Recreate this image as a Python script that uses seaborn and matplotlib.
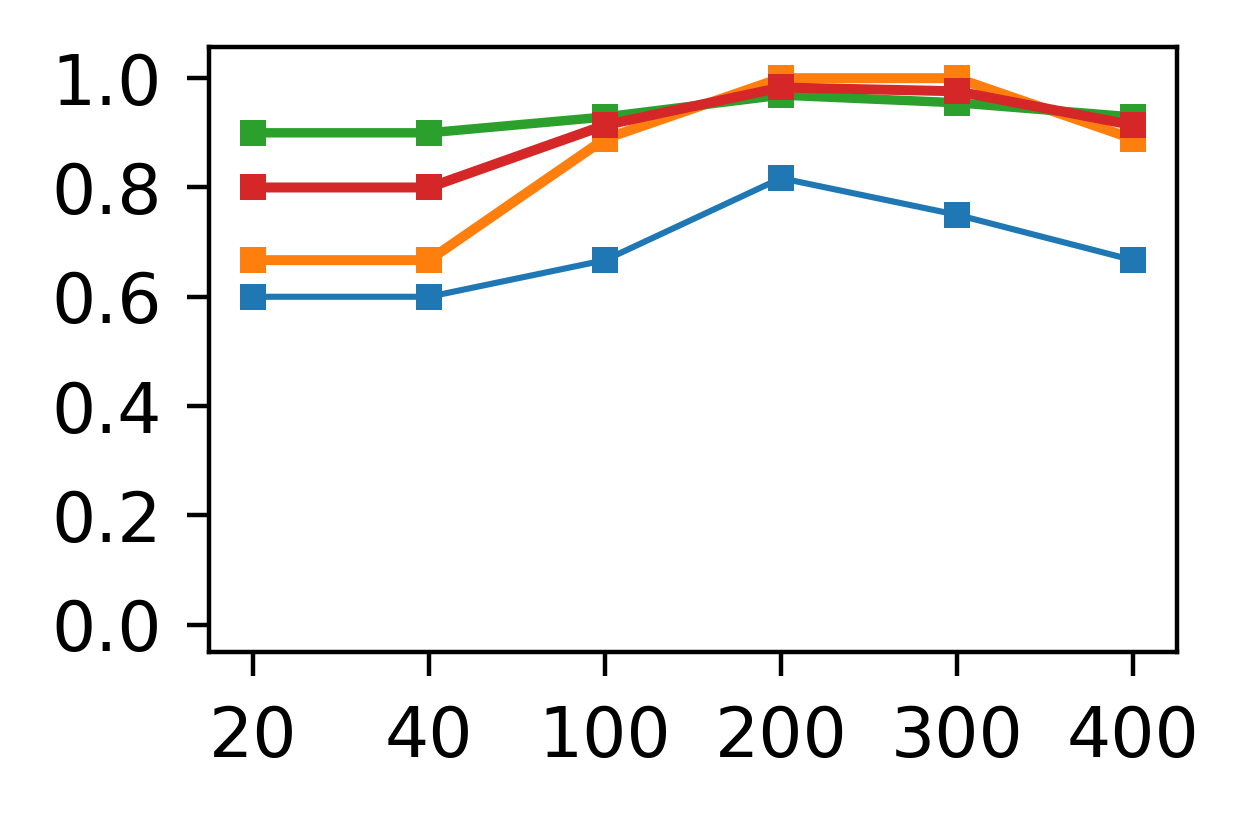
import matplotlib
matplotlib.use("Agg")
import pandas as pd
import seaborn as sns
import matplotlib.pyplot as plt

sizes = ["20", "40", "100", "200", "300", "400"]

blue_vals = [0.6, 0.6, 0.667, 0.817, 0.75, 0.667]
orange_vals = [0.667, 0.667, 0.889, 1.0, 1.0, 0.889]
green_vals = [0.9, 0.9, 0.929, 0.969, 0.955, 0.929]
red_vals = [0.8, 0.8, 0.914, 0.983, 0.976, 0.914]

series = [
    ("blue", blue_vals, "#1f77b4", 1.1),
    ("orange", orange_vals, "#ff7f0e", 1.8),
    ("green", green_vals, "#2ca02c", 1.7),
    ("red", red_vals, "#d62728", 1.8),
]

sns.set_style("ticks")
plt.rcParams["font.family"] = ["DejaVu Sans"]
plt.rcParams["font.size"] = 12.5
for key in ["text.color", "axes.labelcolor", "xtick.color", "ytick.color", "axes.edgecolor"]:
    plt.rcParams[key] = "black"
plt.rcParams["axes.linewidth"] = 0.8
plt.rcParams["xtick.major.size"] = 4.3
plt.rcParams["ytick.major.size"] = 4.0
plt.rcParams["xtick.major.width"] = 0.8
plt.rcParams["ytick.major.width"] = 0.8
plt.rcParams["xtick.major.pad"] = 5.0
plt.rcParams["ytick.major.pad"] = 4.5

fig, ax = plt.subplots(figsize=(3.125, 2.0475), dpi=400)
fig.subplots_adjust(left=0.1672, right=0.9416, top=0.9426, bottom=0.2039)

pos = list(range(len(sizes)))
for name, vals, color, lw in series:
    df = pd.DataFrame({"pos": pos, "val": vals})
    sns.lineplot(data=df, x="pos", y="val", color=color, linewidth=lw,
                 marker="s", markersize=4.8, markeredgewidth=0, ax=ax)

ax.set_xticks(pos)
ax.set_xticklabels(sizes)
ax.set_yticks([0.0, 0.2, 0.4, 0.6, 0.8, 1.0])
ax.set_ylim(-0.05, 1.057)
ax.set_xlabel("")
ax.set_ylabel("")
ax.tick_params(labelsize=12.5)

fig.savefig("out.png", dpi=400)
